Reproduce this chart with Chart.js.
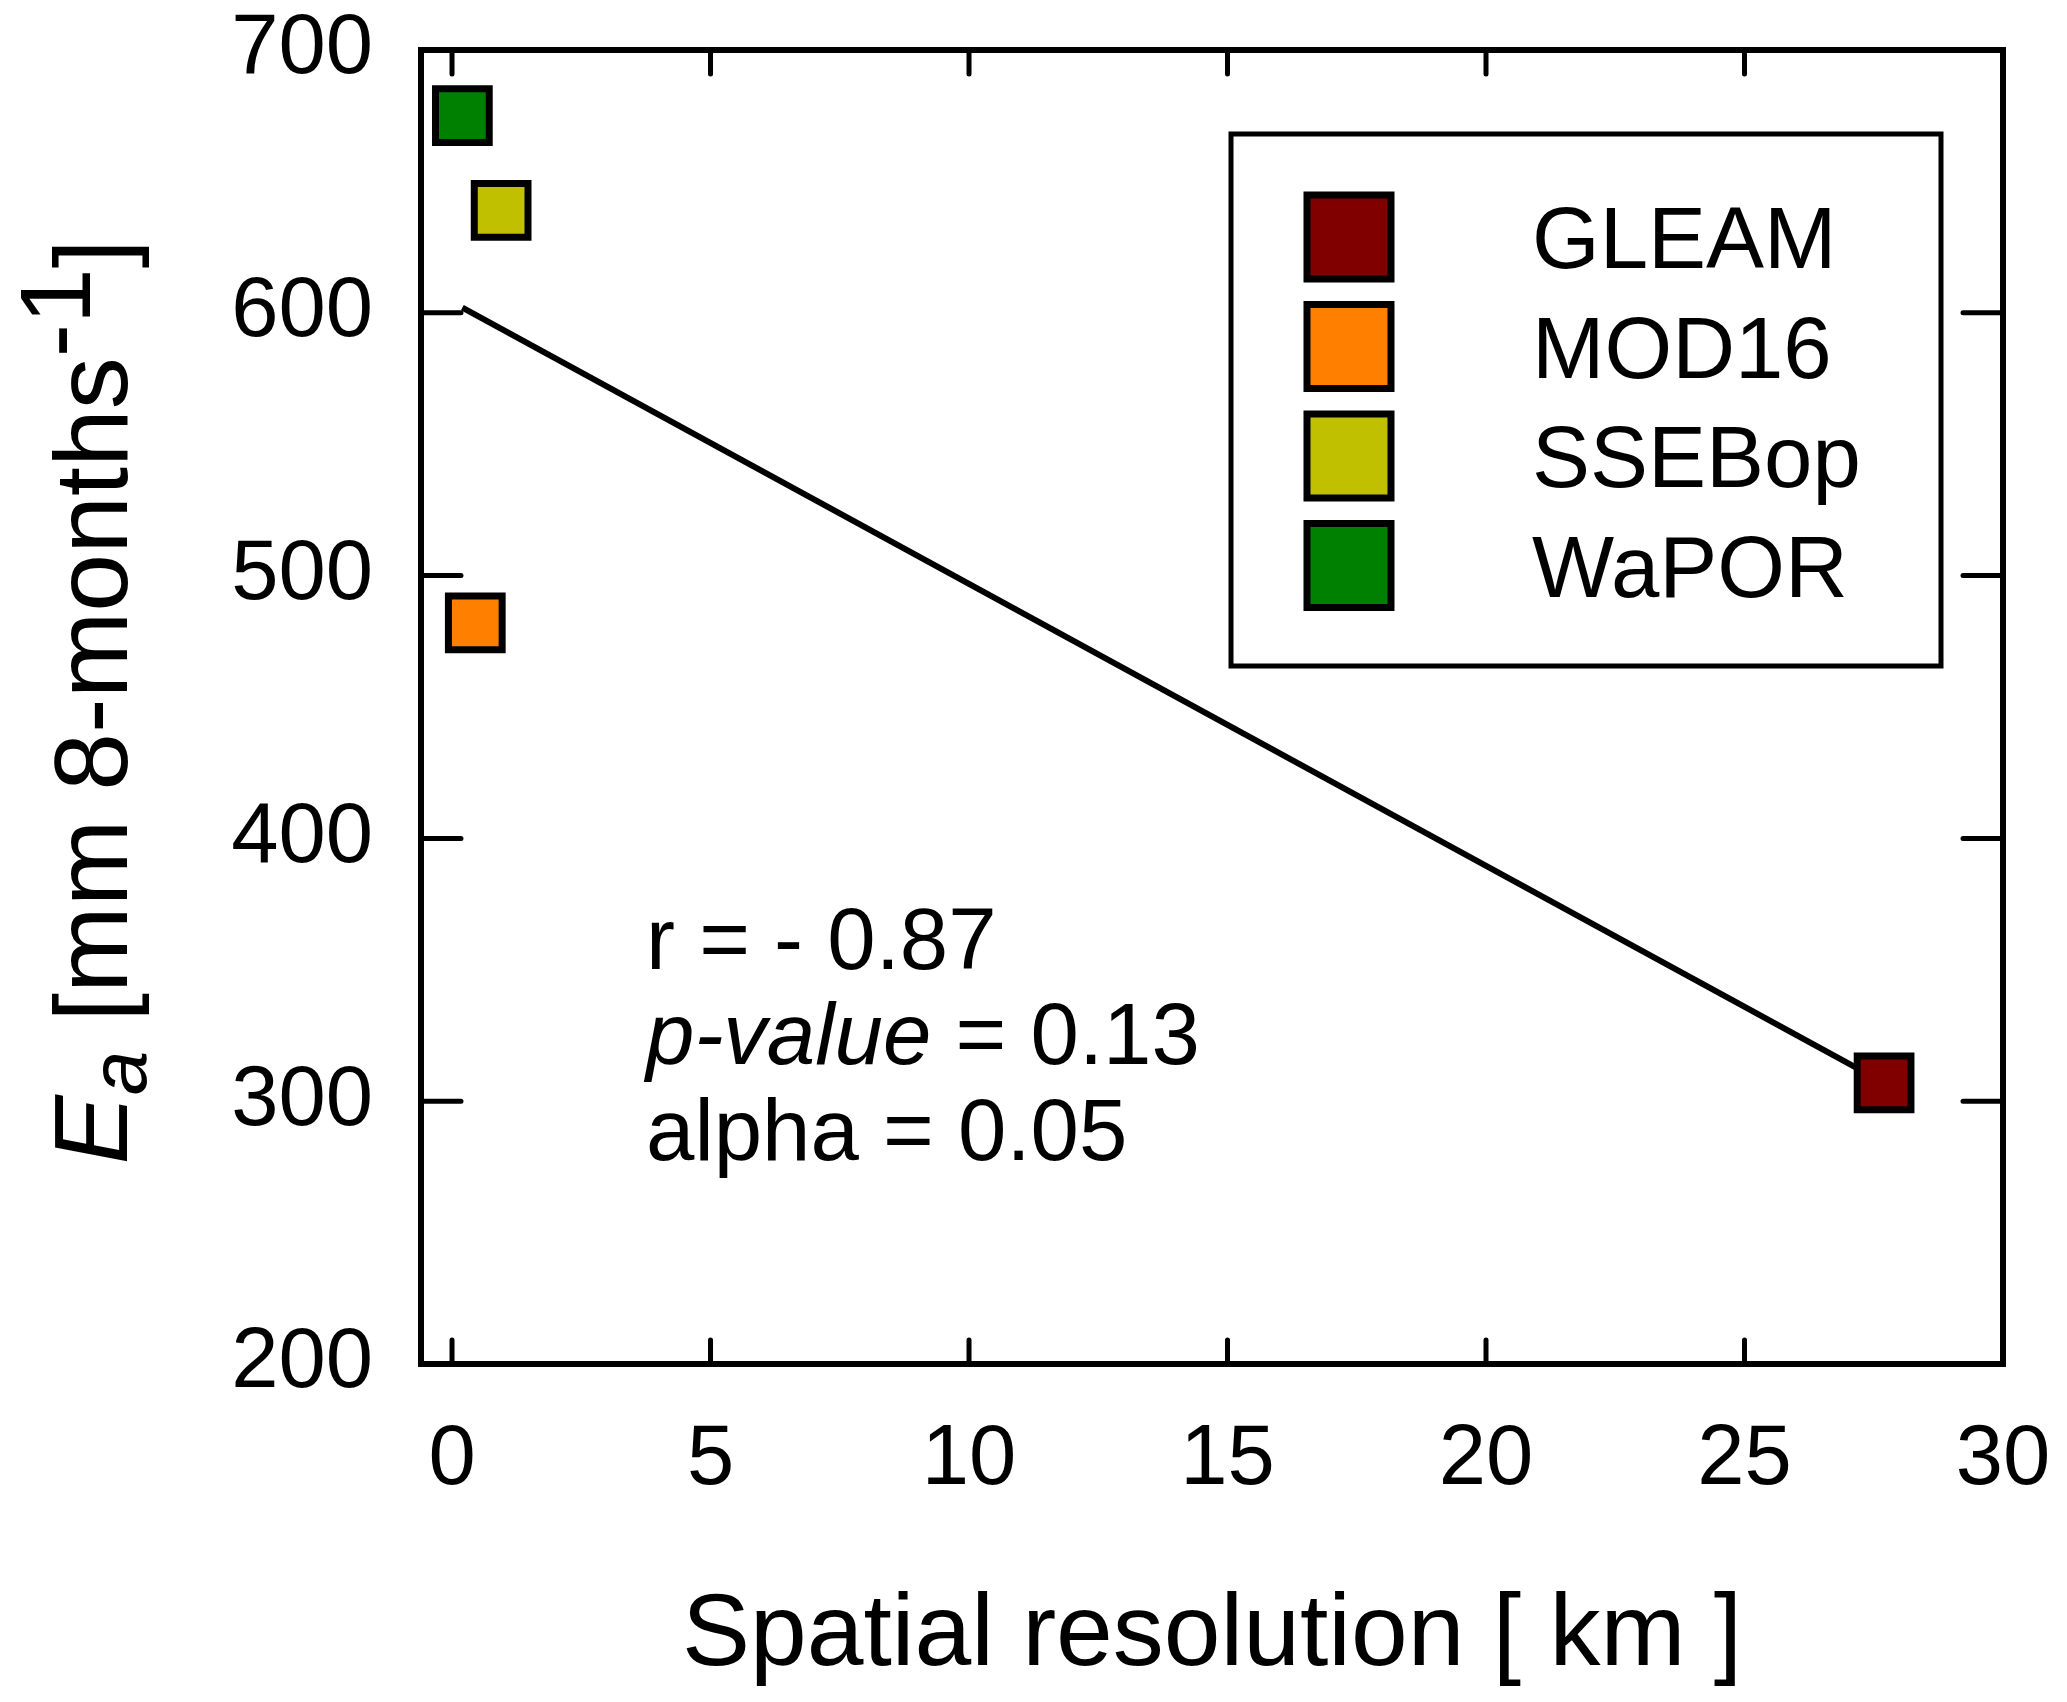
<!DOCTYPE html>
<html>
<head>
<meta charset="utf-8">
<title>Ea vs spatial resolution</title>
<script src="https://cdn.jsdelivr.net/npm/chart.js@4.4.0/dist/chart.umd.min.js"></script>
<style>
  html, body { margin: 0; padding: 0; background: #fff; }
  canvas { display: block; }
</style>
</head>
<body>
<canvas id="chart" width="2067" height="1702"></canvas>
<script>
// values
const seriesNames = ['GLEAM', 'MOD16', 'SSEBop', 'WaPOR'];
const resolutionKm = [27.7, 0.45, 0.95, 0.2];
const etaValues = [307, 482, 639, 675];
const seriesColors = ['#800000', '#ff8000', '#c0c000', '#008000'];

// regression line end points
const fitX = [0.2, 27.7];
const fitY = [602, 307];

const xTicks = [0, 5, 10, 15, 20, 25, 30];
const yTicks = [200, 300, 400, 500, 600, 700];

const statTexts = [
    [{ t: 'r = - 0.87', italic: false }],
    [{ t: 'p-value', italic: true }, { t: ' = 0.13', italic: false }],
    [{ t: 'alpha = 0.05', italic: false }]
];

const FONT = '"Liberation Sans", Arial, Helvetica, sans-serif';

function font(size, italic) {
    return (italic ? 'italic ' : '') + size + 'px ' + FONT;
}

// frame, inward ticks, legend box, stats text and axis titles
const decorations = {
    id: 'decorations',
    afterDatasetsDraw(chart) {
        const ctx = chart.ctx;
        const area = chart.chartArea;
        const xs = chart.scales.x;
        const ys = chart.scales.y;
        ctx.save();
        ctx.strokeStyle = '#000';
        ctx.lineCap = 'round';

        // ticks
        ctx.lineWidth = 5;
        ctx.beginPath();
        xTicks.forEach(v => {
            const px = xs.getPixelForValue(v);
            ctx.moveTo(px, area.bottom);
            ctx.lineTo(px, area.bottom - 24);
            ctx.moveTo(px, area.top);
            ctx.lineTo(px, area.top + 24);
        });
        yTicks.forEach(v => {
            const py = ys.getPixelForValue(v);
            ctx.moveTo(area.left, py);
            ctx.lineTo(area.left + 40, py);
            ctx.moveTo(area.right, py);
            ctx.lineTo(area.right - 40, py);
        });
        ctx.stroke();

        // frame
        ctx.lineWidth = 6;
        ctx.lineCap = 'butt';
        ctx.strokeRect(area.left, area.top, area.right - area.left, area.bottom - area.top);

        // legend
        ctx.lineWidth = 5;
        ctx.strokeRect(1231, 134, 710, 532);
        const dsets = chart.data.datasets.filter(d => d.type !== 'line');
        dsets.forEach((d, i) => {
            const cy = 237 + i * 109.5;
            ctx.fillStyle = d.pointBackgroundColor;
            ctx.fillRect(1307, cy - 42, 84, 84);
            ctx.lineWidth = 7;
            ctx.strokeRect(1307, cy - 42, 84, 84);
            ctx.fillStyle = '#000';
            ctx.font = font(87, false);
            ctx.textAlign = 'left';
            ctx.textBaseline = 'alphabetic';
            ctx.fillText(d.label, 1532, cy + 31);
        });

        // stats text
        const baselines = [969, 1064, 1160];
        ctx.fillStyle = '#000';
        statTexts.forEach((parts, i) => {
            let x = 646;
            parts.forEach(p => {
                ctx.font = font(87, p.italic);
                ctx.fillText(p.t, x, baselines[i]);
                x += ctx.measureText(p.t).width;
            });
        });

        // x title
        ctx.font = font(102, false);
        ctx.textAlign = 'center';
        ctx.fillText('Spatial resolution [ km ]', (area.left + area.right) / 2, 1665);

        // y title, rotated, with italic E, subscript a and superscript -1
        const pieces = [
            { t: 'E', size: 104, italic: true, dy: 0 },
            { t: 'a', size: 80, italic: true, dy: 19 },
            { t: ' [mm 8-months', size: 104, italic: false, dy: 0 },
            { t: '-1', size: 100, italic: false, dy: -37 },
            { t: ']', size: 104, italic: false, dy: 0 }
        ];
        let total = 0;
        pieces.forEach(p => {
            ctx.font = font(p.size, p.italic);
            p.w = ctx.measureText(p.t).width;
            total += p.w;
        });
        ctx.translate(127, 702);
        ctx.rotate(-Math.PI / 2);
        ctx.textAlign = 'left';
        let x = -total / 2;
        pieces.forEach(p => {
            ctx.font = font(p.size, p.italic);
            ctx.fillText(p.t, x, p.dy);
            x += p.w;
        });
        ctx.restore();
    }
};

const datasets = seriesNames.map((name, i) => ({
    label: name,
    data: [{ x: resolutionKm[i], y: etaValues[i] }],
    pointBackgroundColor: seriesColors[i],
    pointBorderColor: '#000',
    pointBorderWidth: 7,
    pointStyle: 'rect',
    pointRadius: 38,
    pointHoverRadius: 38,
    order: 0
}));

datasets.push({
    type: 'line',
    label: 'fit',
    data: fitX.map((x, i) => ({ x: x, y: fitY[i] })),
    borderColor: '#000',
    borderWidth: 6,
    pointRadius: 0,
    fill: false,
    order: 10
});

new Chart(document.getElementById('chart'), {
    type: 'scatter',
    data: { datasets: datasets },
    options: {
        responsive: false,
        devicePixelRatio: 1,
        animation: false,
        layout: { padding: { top: 50, right: 64, left: 0, bottom: 0 } },
        plugins: {
            legend: { display: false },
            tooltip: { enabled: false }
        },
        scales: {
            x: {
                type: 'linear',
                min: -0.6,
                max: 30,
                grid: { display: false, drawTicks: false },
                border: { display: false },
                afterBuildTicks: s => { s.ticks = xTicks.map(v => ({ value: v })); },
                afterFit: s => {
                    s.height = 338;
                    s.paddingLeft = 0;
                    s.paddingRight = 0;
                },
                ticks: {
                    color: '#000',
                    padding: 54,
                    maxRotation: 0,
                    font: { family: FONT, size: 85, lineHeight: 1 }
                }
            },
            y: {
                type: 'linear',
                min: 200,
                max: 700,
                grid: { display: false, drawTicks: false },
                border: { display: false },
                afterBuildTicks: s => { s.ticks = yTicks.map(v => ({ value: v })); },
                afterFit: s => {
                    s.width = 421;
                    s.paddingTop = 0;
                    s.paddingBottom = 0;
                },
                ticks: {
                    color: '#000',
                    padding: 48,
                    font: { family: FONT, size: 85, lineHeight: 1 }
                }
            }
        }
    },
    plugins: [decorations]
});
</script>
</body>
</html>
